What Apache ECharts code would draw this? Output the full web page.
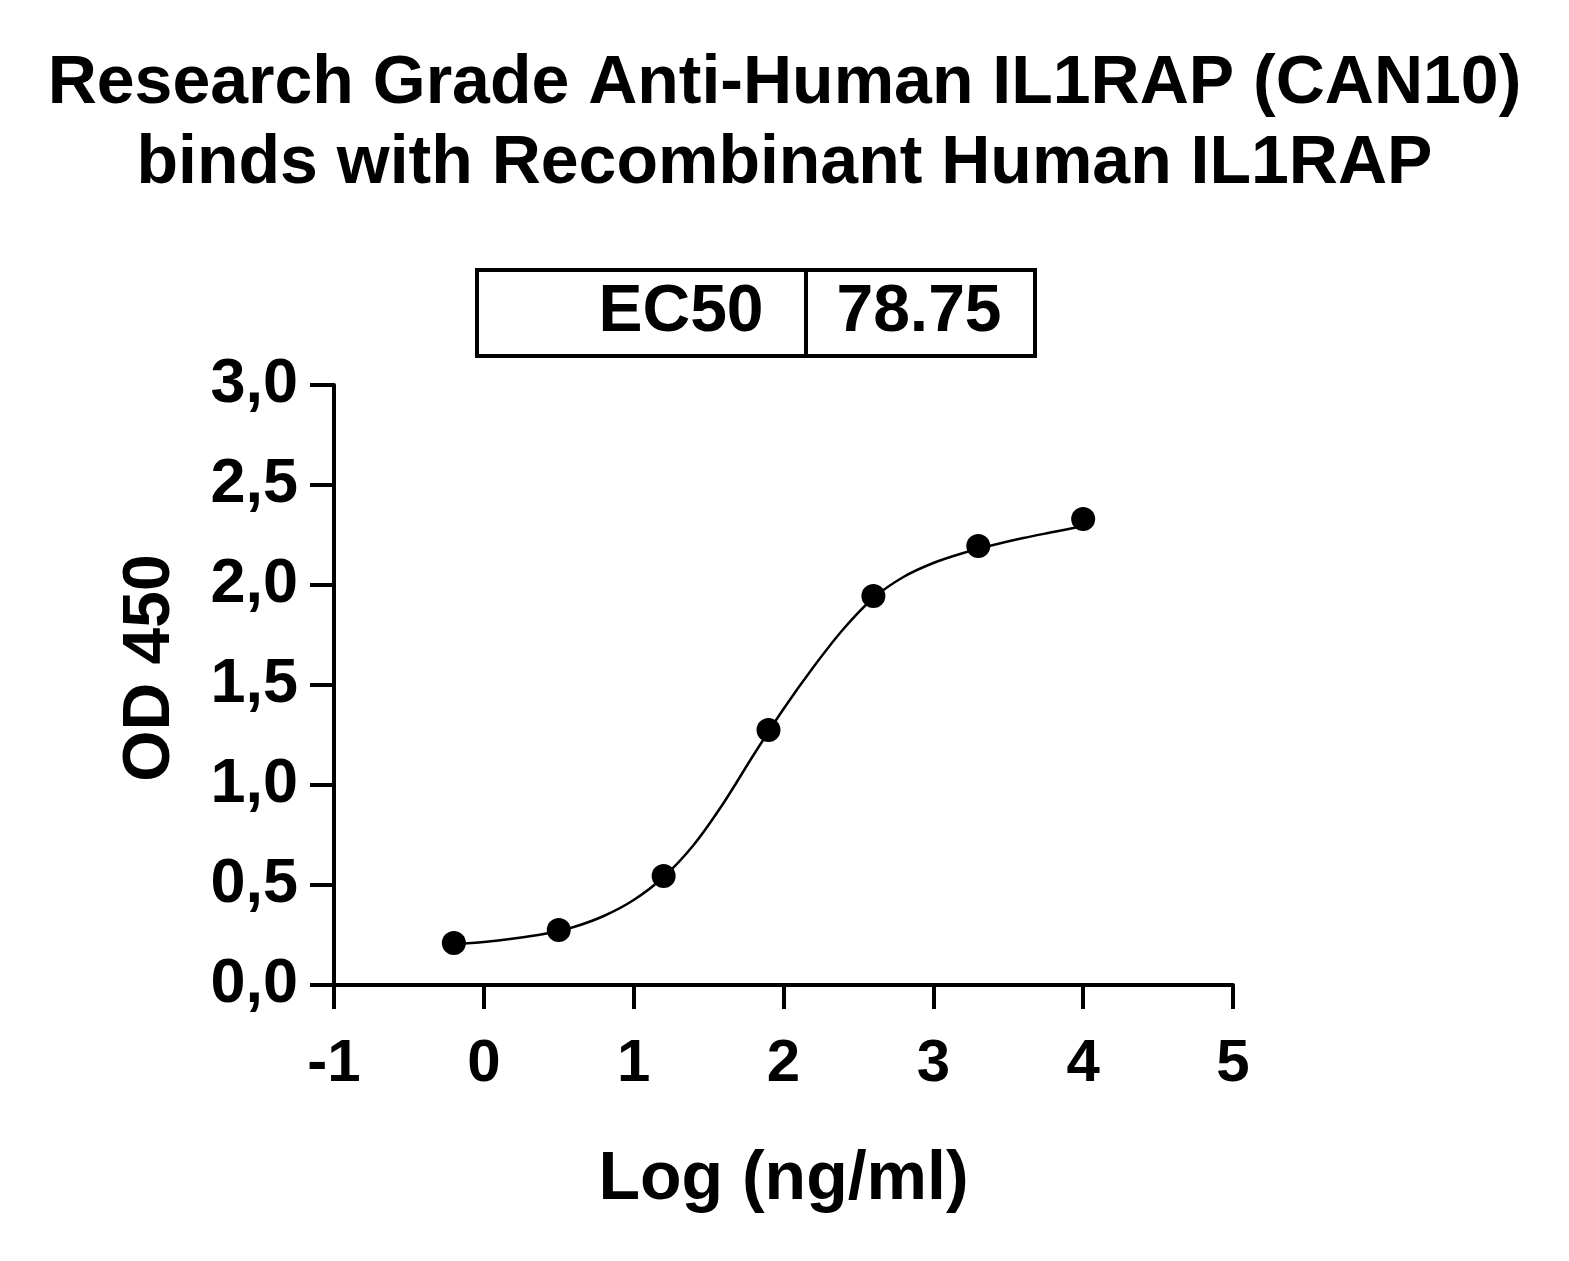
<!DOCTYPE html>
<html><head><meta charset="utf-8">
<script src="https://cdn.jsdelivr.net/npm/echarts@6/dist/echarts.min.js"></script>
<style>html,body{margin:0;padding:0;background:#fff}#c{width:1569px;height:1261px}</style>
</head><body><div id="c"></div>
<script>
const titleLines = ['Research Grade Anti-Human IL1RAP (CAN10)', 'binds with Recombinant Human IL1RAP'];
const xAxisName = 'Log (ng/ml)';
const yAxisName = 'OD 450';
const ec50Label = 'EC50';
const ec50Value = '78.75';
// measured points: log concentration and OD450
const logConc = [-0.2, 0.5, 1.2, 1.9, 2.6, 3.3, 4.0];
const od450 = [0.21, 0.275, 0.545, 1.275, 1.945, 2.195, 2.33];
// fitted curve
const curveX = [-0.2, 0.0, 0.2, 0.4, 0.6, 0.8, 1.0, 1.2, 1.4, 1.6, 1.8, 2.0, 2.2, 2.4, 2.6, 2.8, 3.0, 3.2, 3.4, 3.6, 3.8, 4.0];
const curveY = [0.205, 0.215, 0.232, 0.255, 0.29, 0.345, 0.425, 0.54, 0.70, 0.91, 1.15, 1.38, 1.59, 1.78, 1.935, 2.04, 2.11, 2.16, 2.20, 2.235, 2.265, 2.295];

const FONT = '"Liberation Sans", Arial, sans-serif';
const chart = echarts.init(document.getElementById('c'));
chart.setOption({
  backgroundColor: '#ffffff',
  animation: false,
  title: {
    text: titleLines.join('\n'),
    left: 'center', top: 39,
    textStyle: {fontFamily: FONT, fontWeight: 'bold', fontSize: 68, lineHeight: 80, color: '#000'}
  },
  grid: {left: 334, right: 336, top: 385, bottom: 276},
  xAxis: {
    type: 'value', min: -1, max: 5, interval: 1,
    name: xAxisName, nameLocation: 'middle', nameGap: 161,
    nameTextStyle: {fontFamily: FONT, fontWeight: 'bold', fontSize: 68, color: '#000'},
    axisLine: {show: true, onZero: false, lineStyle: {color: '#000', width: 4}},
    axisTick: {show: true, length: 24, lineStyle: {color: '#000', width: 4}},
    axisLabel: {fontFamily: FONT, fontWeight: 'bold', fontSize: 60, color: '#000', margin: 49},
    splitLine: {show: false}
  },
  yAxis: {
    type: 'value', min: 0, max: 3, interval: 0.5,
    name: yAxisName, nameLocation: 'middle', nameGap: 150, nameRotate: 90,
    nameTextStyle: {fontFamily: FONT, fontWeight: 'bold', fontSize: 66, color: '#000', padding: [0, 0, 0, 34]},
    axisLine: {show: true, onZero: false, lineStyle: {color: '#000', width: 4}},
    axisTick: {show: true, length: 24, lineStyle: {color: '#000', width: 4}},
    axisLabel: {fontFamily: FONT, fontWeight: 'bold', fontSize: 63, color: '#000', margin: 36,
      formatter: v => v.toFixed(1).replace('.', ',')},
    splitLine: {show: false}
  },
  graphic: [
    {type: 'rect', shape: {x: 477, y: 270, width: 558, height: 86}, style: {fill: 'none', stroke: '#000', lineWidth: 4}},
    {type: 'line', shape: {x1: 806, y1: 270, x2: 806, y2: 356}, style: {stroke: '#000', lineWidth: 4}},
    {type: 'text', style: {text: ec50Label, x: 681, y: 313, textAlign: 'center', textVerticalAlign: 'middle', font: 'bold 66px "Liberation Sans", Arial, sans-serif', fill: '#000'}},
    {type: 'text', style: {text: ec50Value, x: 919, y: 313, textAlign: 'center', textVerticalAlign: 'middle', font: 'bold 66px "Liberation Sans", Arial, sans-serif', fill: '#000'}}
  ],
  series: [
    {type: 'line', data: curveX.map((x, i) => [x, curveY[i]]), smooth: 0.3, showSymbol: false,
      lineStyle: {color: '#000', width: 2.5}, z: 2},
    {type: 'scatter', data: logConc.map((x, i) => [x, od450[i]]), symbol: 'circle', symbolSize: 24,
      itemStyle: {color: '#000', opacity: 1}, z: 3}
  ]
});
</script></body></html>
